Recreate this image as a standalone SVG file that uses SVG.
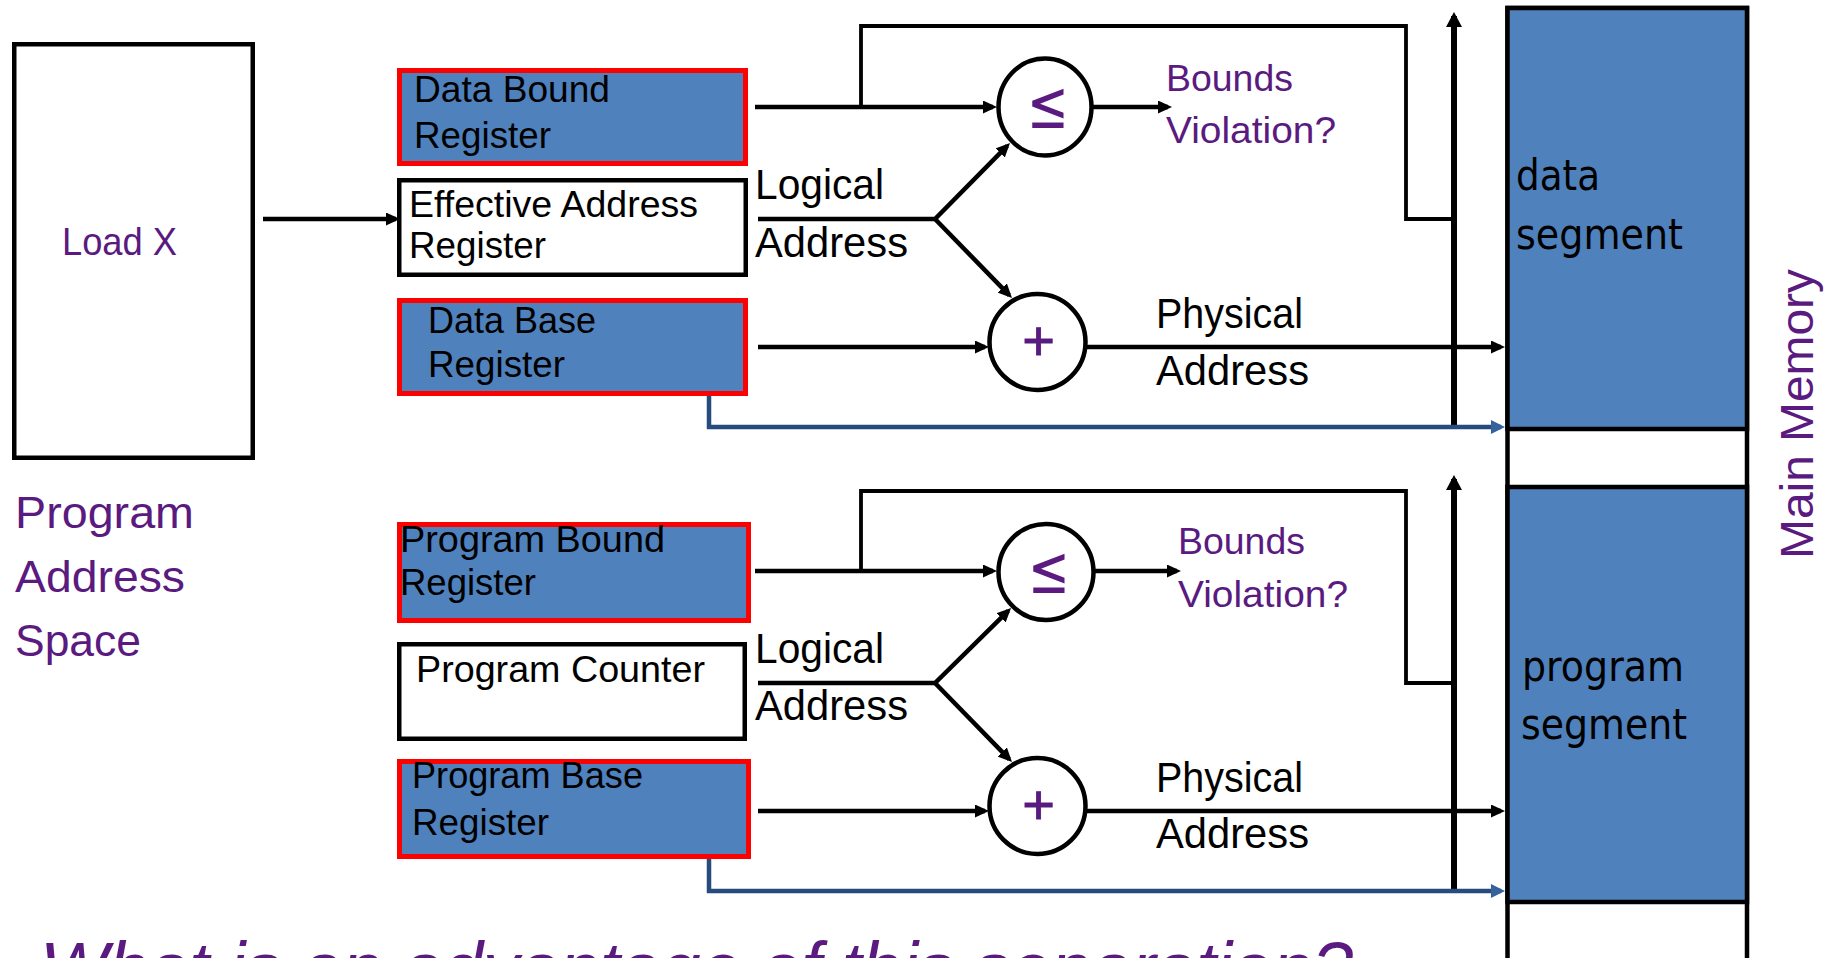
<svg xmlns="http://www.w3.org/2000/svg" width="1839" height="958" viewBox="0 0 1839 958">
  <style>
    .bg { fill: #ffffff; }
    .reg { fill: #4F81BD; stroke: #FF0000; stroke-width: 5; }
    .box { fill: #ffffff; stroke: #000000; stroke-width: 4.5; }
    .seg { fill: #4F81BD; stroke: #000000; stroke-width: 4.5; }
    .op { fill: #ffffff; stroke: #000000; stroke-width: 4.5; }
    .t { font-family: "Liberation Sans", Arial, sans-serif; fill: #000000; }
    .s { font-family: "DejaVu Sans", Verdana, sans-serif; fill: #000000; }
    .sym { font-family: "DejaVu Sans ExtraLight", "DejaVu Sans", sans-serif; font-size: 50px; fill: #5A1A7F; }
    .plus { font-family: "Liberation Sans", Arial, sans-serif; font-size: 56px; fill: #5A1A7F; stroke: #5A1A7F; stroke-width: 0.9; }
    .p { fill: #5A1A7F; }
    .r37 { font-size: 37px; }
    .r43 { font-size: 43px; }
    .r36 { font-size: 36px; }
    .r44 { font-size: 44px; }
    .wire { fill: none; stroke: #000000; stroke-width: 4.5; }
    .thin { fill: none; stroke: #000000; stroke-width: 3.8; }
    .bus { fill: none; stroke: #000000; stroke-width: 6; }
    .base { fill: none; stroke: #274B7D; stroke-width: 4.5; }
  </style>
  <defs>
    <marker id="ah" markerUnits="userSpaceOnUse" markerWidth="14" markerHeight="13" refX="10" refY="6.5" orient="auto">
      <path d="M0,0 L14,6.5 L0,13 Z" fill="#000000"/>
    </marker>
    <marker id="ahUp" markerUnits="userSpaceOnUse" markerWidth="15" markerHeight="16" refX="11" refY="8" orient="auto">
      <path d="M0,0 L15,8 L0,16 Z" fill="#000000"/>
    </marker>
    <marker id="ahBlue" markerUnits="userSpaceOnUse" markerWidth="14" markerHeight="14" refX="10" refY="7" orient="auto">
      <path d="M0,0 L14,7 L0,14 Z" fill="#35629C"/>
    </marker>
  </defs>

  <rect class="bg" x="0" y="0" width="1839" height="958"/>

  <!-- program address space -->
  <g id="load-x">
    <rect class="box" x="14.25" y="44.25" width="238.5" height="413.5"/>
    <text class="t p" x="62" y="255" font-size="39" textLength="115" lengthAdjust="spacingAndGlyphs">Load X</text>
  </g>
  <g id="program-address-space">
    <text class="t p r44" x="15" y="528" textLength="179" lengthAdjust="spacingAndGlyphs">Program</text>
    <text class="t p r44" x="15" y="592" textLength="170" lengthAdjust="spacingAndGlyphs">Address</text>
    <text class="t p r44" x="15" y="656" textLength="126" lengthAdjust="spacingAndGlyphs">Space</text>
  </g>

  <!-- data-side registers -->
  <g id="data-bound-register">
    <rect class="reg" x="399.5" y="70.5" width="346" height="93"/>
    <text class="t r37" x="414" y="102" textLength="196" lengthAdjust="spacingAndGlyphs">Data Bound</text>
    <text class="t r37" x="414" y="148" textLength="137" lengthAdjust="spacingAndGlyphs">Register</text>
  </g>
  <g id="effective-address-register">
    <rect class="box" x="399.25" y="180.25" width="346.5" height="94.5"/>
    <text class="t r37" x="409" y="217" textLength="289" lengthAdjust="spacingAndGlyphs">Effective Address</text>
    <text class="t r37" x="409" y="258" textLength="137" lengthAdjust="spacingAndGlyphs">Register</text>
  </g>
  <g id="data-base-register">
    <rect class="reg" x="399.5" y="300.5" width="346" height="93"/>
    <text class="t r37" x="428" y="333" textLength="168" lengthAdjust="spacingAndGlyphs">Data Base</text>
    <text class="t r37" x="428" y="377" textLength="137" lengthAdjust="spacingAndGlyphs">Register</text>
  </g>

  <!-- program-side registers -->
  <g id="program-bound-register">
    <rect class="reg" x="399.5" y="524.5" width="349" height="96"/>
    <text class="t r37" x="400" y="552" textLength="265" lengthAdjust="spacingAndGlyphs">Program Bound</text>
    <text class="t r37" x="400" y="595" textLength="136" lengthAdjust="spacingAndGlyphs">Register</text>
  </g>
  <g id="program-counter">
    <rect class="box" x="399.25" y="644.25" width="345.5" height="94.5"/>
    <text class="t r37" x="416" y="682" textLength="289" lengthAdjust="spacingAndGlyphs">Program Counter</text>
  </g>
  <g id="program-base-register">
    <rect class="reg" x="399.5" y="761.5" width="349" height="95"/>
    <text class="t r37" x="412" y="788" textLength="231" lengthAdjust="spacingAndGlyphs">Program Base</text>
    <text class="t r37" x="412" y="835" textLength="137" lengthAdjust="spacingAndGlyphs">Register</text>
  </g>

  <!-- main memory -->
  <g id="main-memory">
    <rect class="box" x="1507.5" y="8" width="239.5" height="1000"/>
    <rect class="seg" x="1507.5" y="8" width="239.5" height="421"/>
    <rect class="seg" x="1507.5" y="487" width="239.5" height="415"/>
    <text class="s" x="1516" y="190" font-size="42" textLength="84" lengthAdjust="spacingAndGlyphs">data</text>
    <text class="s" x="1516" y="249" font-size="42" textLength="167" lengthAdjust="spacingAndGlyphs">segment</text>
    <text class="s" x="1522" y="681" font-size="42" textLength="162" lengthAdjust="spacingAndGlyphs">program</text>
    <text class="s" x="1521" y="739" font-size="42" textLength="166" lengthAdjust="spacingAndGlyphs">segment</text>
    <text class="t p" transform="translate(1813,414) rotate(-90)" x="0" y="0" font-size="46" text-anchor="middle" textLength="290" lengthAdjust="spacingAndGlyphs">Main Memory</text>
  </g>

  <!-- connectors -->
  <g id="connectors">
    <!-- data path -->
    <path class="wire" d="M263,219 H396" marker-end="url(#ah)"/>
    <path class="wire" d="M755,107 H993" marker-end="url(#ah)"/>
    <path class="thin" d="M861,107 V26 H1406 V219 H1454"/>
    <path class="wire" d="M758,219 H935 L1007.2,145.9" marker-end="url(#ah)"/>
    <path class="wire" d="M935,219 L1009.2,295.1" marker-end="url(#ah)"/>
    <path class="wire" d="M758,347 H985" marker-end="url(#ah)"/>
    <path class="wire" d="M1093,107 H1168" marker-end="url(#ah)"/>
    <path class="wire" d="M1086,347 H1501" marker-end="url(#ah)"/>
    <path class="bus" d="M1454,425 V16" marker-end="url(#ahUp)"/>
    <path class="base" d="M709,396 V427 H1501" marker-end="url(#ahBlue)"/>

    <!-- program path -->
    <path class="wire" d="M755,571 H993" marker-end="url(#ah)"/>
    <path class="thin" d="M861,571 V491 H1406 V683 H1454"/>
    <path class="wire" d="M758,683 H935 L1008.2,610.8" marker-end="url(#ah)"/>
    <path class="wire" d="M935,683 L1009.2,759.1" marker-end="url(#ah)"/>
    <path class="wire" d="M758,811 H985" marker-end="url(#ah)"/>
    <path class="wire" d="M1093,571 H1177" marker-end="url(#ah)"/>
    <path class="wire" d="M1086,811 H1501" marker-end="url(#ah)"/>
    <path class="bus" d="M1454,889 V479" marker-end="url(#ahUp)"/>
    <path class="base" d="M709,859 V891 H1501" marker-end="url(#ahBlue)"/>
  </g>

  <!-- comparators and adders -->
  <g id="data-compare">
    <ellipse class="op" cx="1045" cy="107" rx="46.5" ry="48.5"/>
    <text class="sym" transform="translate(1048,128) scale(1,1.35)" x="0" y="0" text-anchor="middle">≤</text>
  </g>
  <g id="data-add">
    <circle class="op" cx="1037.5" cy="342" r="48"/>
    <text class="plus" x="1038.5" y="360" text-anchor="middle">+</text>
  </g>
  <g id="program-compare">
    <ellipse class="op" cx="1046" cy="572" rx="47.5" ry="48"/>
    <text class="sym" transform="translate(1049,593) scale(1,1.35)" x="0" y="0" text-anchor="middle">≤</text>
  </g>
  <g id="program-add">
    <circle class="op" cx="1037.5" cy="806" r="48"/>
    <text class="plus" x="1038.5" y="824" text-anchor="middle">+</text>
  </g>

  <!-- wire labels -->
  <g id="data-labels">
    <text class="t r43" x="755" y="199" textLength="129" lengthAdjust="spacingAndGlyphs">Logical</text>
    <text class="t r43" x="755" y="257" textLength="153" lengthAdjust="spacingAndGlyphs">Address</text>
    <text class="t p r36" x="1166" y="91" textLength="127" lengthAdjust="spacingAndGlyphs">Bounds</text>
    <text class="t p r36" x="1166" y="143" textLength="170" lengthAdjust="spacingAndGlyphs">Violation?</text>
    <text class="t r43" x="1156" y="328" textLength="147" lengthAdjust="spacingAndGlyphs">Physical</text>
    <text class="t r43" x="1156" y="385" textLength="153" lengthAdjust="spacingAndGlyphs">Address</text>
  </g>
  <g id="program-labels">
    <text class="t r43" x="755" y="663" textLength="129" lengthAdjust="spacingAndGlyphs">Logical</text>
    <text class="t r43" x="755" y="720" textLength="153" lengthAdjust="spacingAndGlyphs">Address</text>
    <text class="t p r36" x="1178" y="554" textLength="127" lengthAdjust="spacingAndGlyphs">Bounds</text>
    <text class="t p r36" x="1178" y="607" textLength="170" lengthAdjust="spacingAndGlyphs">Violation?</text>
    <text class="t r43" x="1156" y="792" textLength="147" lengthAdjust="spacingAndGlyphs">Physical</text>
    <text class="t r43" x="1156" y="848" textLength="153" lengthAdjust="spacingAndGlyphs">Address</text>
  </g>

  <!-- question line, running off the lower edge -->
  <text class="t p" x="40" y="993" font-size="72" font-style="italic" textLength="1313" lengthAdjust="spacingAndGlyphs">What is an advantage of this separation?</text>
</svg>
